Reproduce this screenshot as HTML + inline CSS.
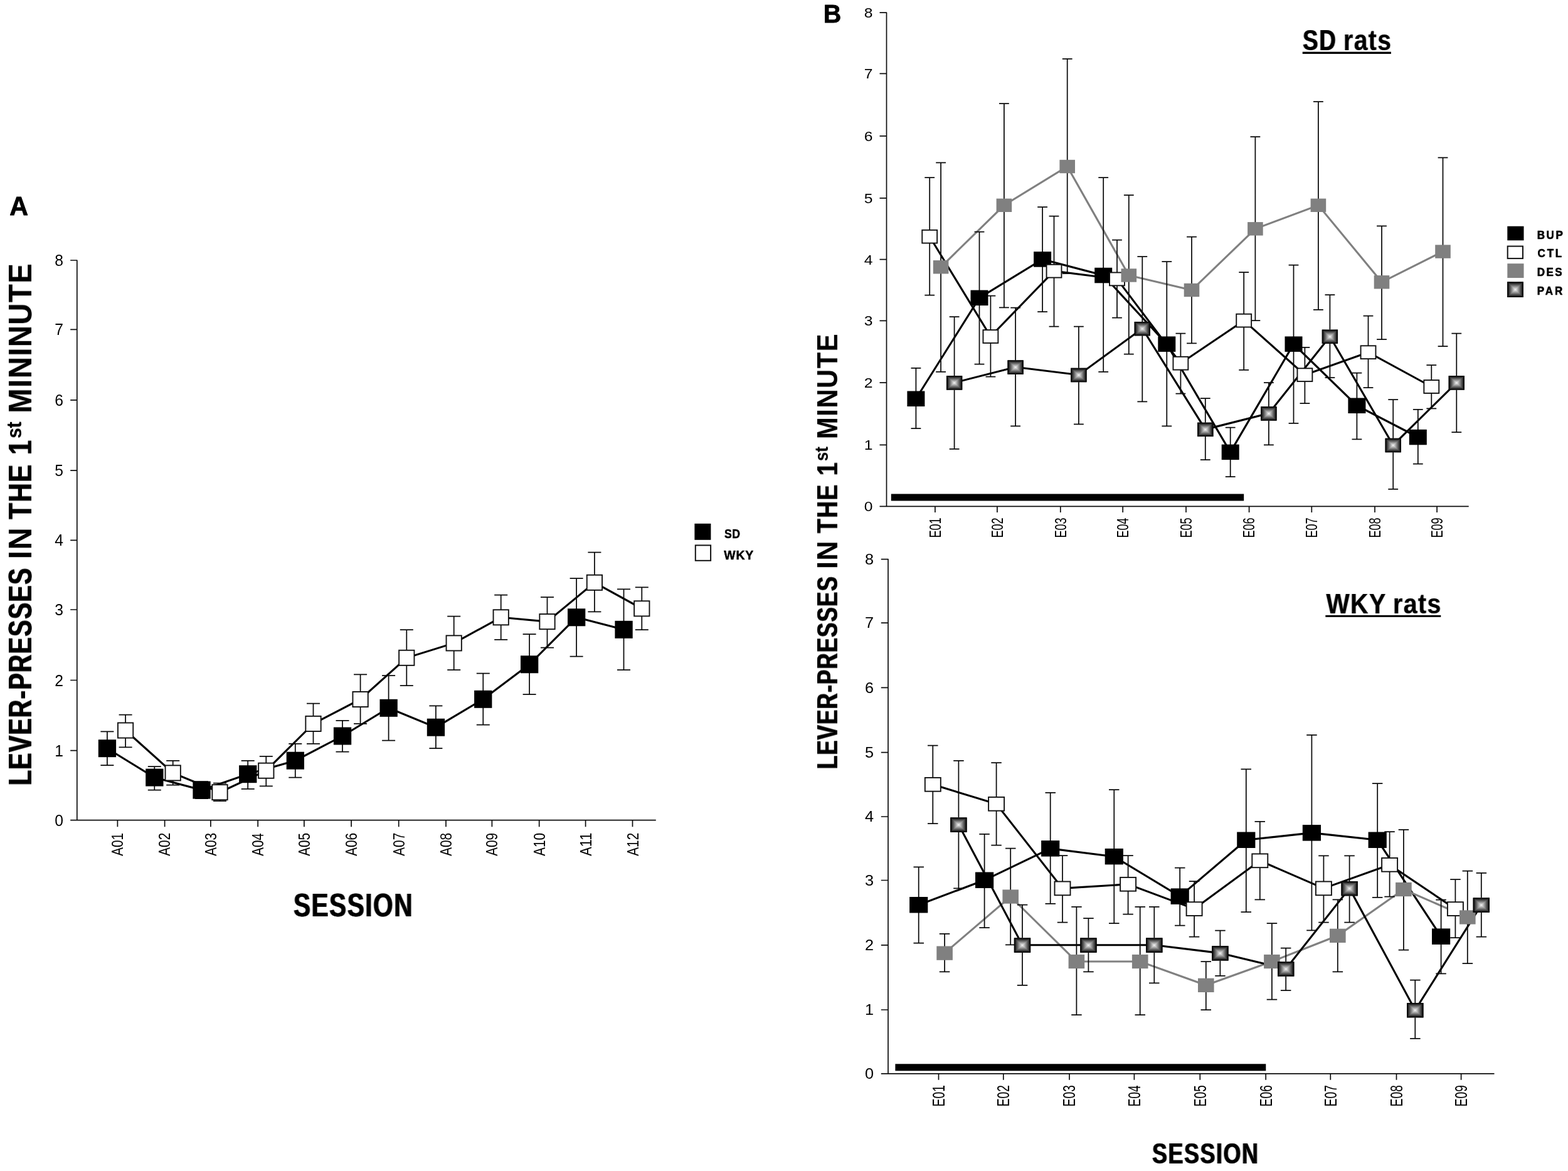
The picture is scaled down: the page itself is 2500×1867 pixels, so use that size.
<!DOCTYPE html>
<html lang="en">
<head>
<meta charset="utf-8">
<title>Lever-presses in the 1st minute</title>
<style>
html,body{margin:0;padding:0;background:#fff;}
body{width:2500px;height:1867px;overflow:hidden;}
svg{display:block;}
svg text{font-family:"Liberation Sans",sans-serif;}
</style>
</head>
<body>
<svg width="2500" height="1867" viewBox="0 0 2500 1867">
<defs>
<filter id="fx3" x="-20%" y="-20%" width="140%" height="140%"><feMorphology operator="dilate" radius="1 0" result="d"/><feComponentTransfer in="d" result="h"><feFuncA type="linear" slope="0.3"/></feComponentTransfer><feMerge><feMergeNode in="h"/><feMergeNode in="SourceGraphic"/></feMerge></filter>
<filter id="fx5" x="-20%" y="-20%" width="140%" height="140%"><feMorphology operator="dilate" radius="1 0" result="d"/><feComponentTransfer in="d" result="h"><feFuncA type="linear" slope="0.5"/></feComponentTransfer><feMerge><feMergeNode in="h"/><feMergeNode in="SourceGraphic"/></feMerge></filter>
<filter id="fx6" x="-20%" y="-20%" width="140%" height="140%"><feMorphology operator="dilate" radius="1 0" result="d"/><feComponentTransfer in="d" result="h"><feFuncA type="linear" slope="0.6"/></feComponentTransfer><feMerge><feMergeNode in="h"/><feMergeNode in="SourceGraphic"/></feMerge></filter>
<filter id="fy1" x="-20%" y="-20%" width="140%" height="140%"><feMorphology operator="dilate" radius="0 1" result="d"/><feComponentTransfer in="d" result="h"><feFuncA type="linear" slope="0.1"/></feComponentTransfer><feMerge><feMergeNode in="h"/><feMergeNode in="SourceGraphic"/></feMerge></filter>
<filter id="fy2" x="-20%" y="-20%" width="140%" height="140%"><feMorphology operator="dilate" radius="0 1" result="d"/><feComponentTransfer in="d" result="h"><feFuncA type="linear" slope="0.2"/></feComponentTransfer><feMerge><feMergeNode in="h"/><feMergeNode in="SourceGraphic"/></feMerge></filter>
<filter id="fy5" x="-20%" y="-20%" width="140%" height="140%"><feMorphology operator="dilate" radius="0 1" result="d"/><feComponentTransfer in="d" result="h"><feFuncA type="linear" slope="0.5"/></feComponentTransfer><feMerge><feMergeNode in="h"/><feMergeNode in="SourceGraphic"/></feMerge></filter>
<filter id="fy6" x="-20%" y="-20%" width="140%" height="140%"><feMorphology operator="dilate" radius="0 1" result="d"/><feComponentTransfer in="d" result="h"><feFuncA type="linear" slope="0.6"/></feComponentTransfer><feMerge><feMergeNode in="h"/><feMergeNode in="SourceGraphic"/></feMerge></filter>
<filter id="fy7" x="-20%" y="-20%" width="140%" height="140%"><feMorphology operator="dilate" radius="0 1" result="d"/><feComponentTransfer in="d" result="h"><feFuncA type="linear" slope="0.7"/></feComponentTransfer><feMerge><feMergeNode in="h"/><feMergeNode in="SourceGraphic"/></feMerge></filter>
<linearGradient id="gH" x1="0" y1="0" x2="1" y2="0"><stop offset="0" stop-color="#0a0a0a"/><stop offset="0.07" stop-color="#1e1e1e"/><stop offset="0.5" stop-color="#f4f4f4"/><stop offset="0.93" stop-color="#1e1e1e"/><stop offset="1" stop-color="#0a0a0a"/></linearGradient>
<linearGradient id="gT" x1="0" y1="0" x2="0" y2="1"><stop offset="0" stop-color="#0a0a0a"/><stop offset="0.14" stop-color="#1e1e1e"/><stop offset="1" stop-color="#f4f4f4"/></linearGradient>
<linearGradient id="gB" x1="0" y1="1" x2="0" y2="0"><stop offset="0" stop-color="#0a0a0a"/><stop offset="0.14" stop-color="#1e1e1e"/><stop offset="1" stop-color="#f4f4f4"/></linearGradient>
<g id="par">
<rect x="-13" y="-13" width="26" height="26" fill="url(#gH)"/>
<polygon points="-13,-13 13,-13 0,0" fill="url(#gT)"/>
<polygon points="-13,13 13,13 0,0" fill="url(#gB)"/>
<rect x="-12.1" y="-12.1" width="24.2" height="24.2" fill="none" stroke="#0a0a0a" stroke-width="1.8"/>
</g>
</defs>
<rect width="2500" height="1867" fill="#fff"/>
<g id="panelA">
<path d="M112.20,415.00H122.8V1307.7M112.20,1307.7H1045.8" stroke="#0c0c0c" stroke-width="1.7" fill="none" stroke-linejoin="round"/>
<path d="M112.20,1196.60H122.8M112.20,1084.50H122.8M112.20,972.00H122.8M112.20,861.30H122.8M112.20,750.20H122.8M112.20,637.80H122.8M112.20,525.30H122.8M187.40,1307.7v10.6M262.60,1307.7v10.6M335.90,1307.7v10.6M411.20,1307.7v10.6M484.90,1307.7v10.6M560.10,1307.7v10.6M635.70,1307.7v10.6M711.00,1307.7v10.6M784.40,1307.7v10.6M859.70,1307.7v10.6M933.60,1307.7v10.6M1008.50,1307.7v10.6" stroke="#0c0c0c" stroke-width="1.7" fill="none"/>
<path d="M170.9,1193.2 L246.3,1239.6 L321.5,1259.6 L395.2,1234.2 L470.8,1212.7 L546.0,1173.5 L619.6,1128.8 L694.9,1159.7 L770.3,1114.8 L844.1,1059.3 L919.1,984.3 L994.5,1003.8" stroke="#000" stroke-width="3.1" fill="none" stroke-linejoin="miter"/>
<path d="M200.1,1164.5 L275.7,1232.4 L350.5,1263.2 L424.3,1228.7 L499.5,1153.9 L574.6,1115.0 L648.3,1048.8 L723.7,1025.4 L798.7,984.3 L872.5,991.1 L947.9,928.8 L1023.3,970.3" stroke="#000" stroke-width="3.1" fill="none" stroke-linejoin="miter"/>
<path d="M170.9,1166.3V1220.0M160.4,1166.3h21M160.4,1220.0h21M246.3,1222.2V1259.6M235.8,1222.2h21M235.8,1259.6h21M321.5,1246.0V1273.0M311.0,1246.0h21M311.0,1273.0h21M395.2,1212.8V1257.8M384.7,1212.8h21M384.7,1257.8h21M470.8,1185.9V1239.6M460.3,1185.9h21M460.3,1239.6h21M546.0,1148.8V1198.6M535.5,1148.8h21M535.5,1198.6h21M619.6,1077.2V1180.6M609.1,1077.2h21M609.1,1180.6h21M694.9,1125.4V1193.2M684.4,1125.4h21M684.4,1193.2h21M770.3,1073.7V1155.5M759.8,1073.7h21M759.8,1155.5h21M844.1,1011.0V1107.2M833.6,1011.0h21M833.6,1107.2h21M919.1,922.0V1046.6M908.6,922.0h21M908.6,1046.6h21M994.5,939.4V1068.2M984.0,939.4h21M984.0,1068.2h21" stroke="#0a0a0a" stroke-width="1.75" fill="none"/>
<path d="M200.1,1139.7V1191.3M189.6,1139.7h21M189.6,1191.3h21M275.7,1212.8V1251.6M265.2,1212.8h21M265.2,1251.6h21M350.5,1248.7V1277.0M340.0,1248.7h21M340.0,1277.0h21M424.3,1205.8V1253.4M413.8,1205.8h21M413.8,1253.4h21M499.5,1121.6V1185.9M489.0,1121.6h21M489.0,1185.9h21M574.6,1075.4V1153.9M564.1,1075.4h21M564.1,1153.9h21M648.3,1004.0V1093.2M637.8,1004.0h21M637.8,1093.2h21M723.7,982.6V1068.2M713.2,982.6h21M713.2,1068.2h21M798.7,948.7V1019.9M788.2,948.7h21M788.2,1019.9h21M872.5,952.1V1032.6M862.0,952.1h21M862.0,1032.6h21M947.9,880.5V975.4M937.4,880.5h21M937.4,975.4h21M1023.3,936.4V1004.2M1012.8,936.4h21M1012.8,1004.2h21" stroke="#0a0a0a" stroke-width="1.75" fill="none"/>
<rect x="156.8" y="1179.2" width="28.3" height="28.0" fill="#000"/>
<rect x="232.2" y="1225.6" width="28.3" height="28.0" fill="#000"/>
<rect x="307.4" y="1245.6" width="28.3" height="28.0" fill="#000"/>
<rect x="381.1" y="1220.2" width="28.3" height="28.0" fill="#000"/>
<rect x="456.7" y="1198.7" width="28.3" height="28.0" fill="#000"/>
<rect x="531.9" y="1159.5" width="28.3" height="28.0" fill="#000"/>
<rect x="605.5" y="1114.8" width="28.3" height="28.0" fill="#000"/>
<rect x="680.8" y="1145.7" width="28.3" height="28.0" fill="#000"/>
<rect x="756.1" y="1100.8" width="28.3" height="28.0" fill="#000"/>
<rect x="830.0" y="1045.3" width="28.3" height="28.0" fill="#000"/>
<rect x="905.0" y="970.3" width="28.3" height="28.0" fill="#000"/>
<rect x="980.4" y="989.8" width="28.3" height="28.0" fill="#000"/>
<rect x="187.95" y="1152.45" width="24.30" height="24.10" fill="#fff" stroke="#111" stroke-width="1.9"/>
<rect x="263.55" y="1220.35" width="24.30" height="24.10" fill="#fff" stroke="#111" stroke-width="1.9"/>
<rect x="338.35" y="1251.15" width="24.30" height="24.10" fill="#fff" stroke="#111" stroke-width="1.9"/>
<rect x="412.15" y="1216.65" width="24.30" height="24.10" fill="#fff" stroke="#111" stroke-width="1.9"/>
<rect x="487.35" y="1141.85" width="24.30" height="24.10" fill="#fff" stroke="#111" stroke-width="1.9"/>
<rect x="562.45" y="1102.95" width="24.30" height="24.10" fill="#fff" stroke="#111" stroke-width="1.9"/>
<rect x="636.15" y="1036.75" width="24.30" height="24.10" fill="#fff" stroke="#111" stroke-width="1.9"/>
<rect x="711.55" y="1013.35" width="24.30" height="24.10" fill="#fff" stroke="#111" stroke-width="1.9"/>
<rect x="786.55" y="972.25" width="24.30" height="24.10" fill="#fff" stroke="#111" stroke-width="1.9"/>
<rect x="860.35" y="979.05" width="24.30" height="24.10" fill="#fff" stroke="#111" stroke-width="1.9"/>
<rect x="935.75" y="916.75" width="24.30" height="24.10" fill="#fff" stroke="#111" stroke-width="1.9"/>
<rect x="1011.15" y="958.25" width="24.30" height="24.10" fill="#fff" stroke="#111" stroke-width="1.9"/>
<text transform="translate(100.88,1316.74) scale(0.9388,1)" font-size="26.29" text-anchor="end" fill="#000">0</text>
<text transform="translate(100.88,1205.64) scale(0.9388,1)" font-size="26.29" text-anchor="end" fill="#000">1</text>
<text transform="translate(100.88,1093.54) scale(0.9388,1)" font-size="26.29" text-anchor="end" fill="#000">2</text>
<text transform="translate(100.88,981.04) scale(0.9388,1)" font-size="26.29" text-anchor="end" fill="#000">3</text>
<text transform="translate(100.88,870.34) scale(0.9388,1)" font-size="26.29" text-anchor="end" fill="#000">4</text>
<text transform="translate(100.88,759.24) scale(0.9388,1)" font-size="26.29" text-anchor="end" fill="#000">5</text>
<text transform="translate(100.88,646.84) scale(0.9388,1)" font-size="26.29" text-anchor="end" fill="#000">6</text>
<text transform="translate(100.88,534.34) scale(0.9388,1)" font-size="26.29" text-anchor="end" fill="#000">7</text>
<text transform="translate(100.88,424.04) scale(0.9388,1)" font-size="26.29" text-anchor="end" fill="#000">8</text>
<text transform="translate(196.24,1364.85) rotate(-90) scale(0.8101,1)" font-size="25.72" fill="#000">A01</text>
<text transform="translate(271.44,1364.85) rotate(-90) scale(0.8113,1)" font-size="25.72" fill="#000">A02</text>
<text transform="translate(344.74,1364.85) rotate(-90) scale(0.8078,1)" font-size="25.72" fill="#000">A03</text>
<text transform="translate(420.04,1364.85) rotate(-90) scale(0.8008,1)" font-size="25.72" fill="#000">A04</text>
<text transform="translate(493.74,1364.85) rotate(-90) scale(0.8066,1)" font-size="25.72" fill="#000">A05</text>
<text transform="translate(568.94,1364.85) rotate(-90) scale(0.8078,1)" font-size="25.72" fill="#000">A06</text>
<text transform="translate(644.54,1364.85) rotate(-90) scale(0.8113,1)" font-size="25.72" fill="#000">A07</text>
<text transform="translate(719.84,1364.85) rotate(-90) scale(0.8078,1)" font-size="25.72" fill="#000">A08</text>
<text transform="translate(793.24,1364.85) rotate(-90) scale(0.8089,1)" font-size="25.72" fill="#000">A09</text>
<text transform="translate(868.54,1364.85) rotate(-90) scale(0.8054,1)" font-size="25.72" fill="#000">A10</text>
<text transform="translate(942.70,1364.85) rotate(-90) scale(0.8217,1)" font-size="26.47" fill="#000">A11</text>
<text transform="translate(1017.60,1364.85) rotate(-90) scale(0.7998,1)" font-size="26.09" fill="#000">A12</text>
<text transform="translate(15.17,343.10) scale(0.9910,1)" font-size="41.57" font-weight="bold" fill="#000" stroke="#000" stroke-width="0.8" stroke-linejoin="round">A</text>
<g filter="url(#fy7)"><text transform="translate(50.30,1252.04) rotate(-90) scale(0.7592,1)" font-size="51.53" font-weight="bold" fill="#000" letter-spacing="1.98">LEVER-PRESSES</text></g>
<text transform="translate(50.30,891.50) rotate(-90) scale(0.9491,1)" font-size="51.53" font-weight="bold" fill="#000" letter-spacing="1.58">IN</text>
<g filter="url(#fy5)"><text transform="translate(50.30,827.72) rotate(-90) scale(0.8151,1)" font-size="51.53" font-weight="bold" fill="#000" letter-spacing="1.84">THE</text></g>
<g filter="url(#fy6)"><text transform="translate(50.30,724.75) rotate(-90) scale(0.7930,1)" font-size="51.53" font-weight="bold" fill="#000">1</text></g>
<g filter="url(#fy2)"><text transform="translate(34.06,698.74) rotate(-90) scale(0.8767,1)" font-size="33.81" font-weight="bold" fill="#000">st</text></g>
<g filter="url(#fy2)"><text transform="translate(50.30,658.68) rotate(-90) scale(0.9151,1)" font-size="51.53" font-weight="bold" fill="#000" letter-spacing="1.64">MININUTE</text></g>
<g filter="url(#fx6)"><text transform="translate(467.88,1461.30) scale(0.7922,1)" font-size="51.31" font-weight="bold" fill="#000" letter-spacing="1.89">SESSION</text></g>
<rect x="1107.4" y="834.8" width="26.0" height="26.0" fill="#000"/>
<rect x="1108.8" y="869.4" width="24.3" height="24.4" fill="#fff" stroke="#111" stroke-width="2"/>
<text transform="translate(1155.12,857.65) scale(0.8800,1)" font-size="20.06" font-weight="bold" fill="#000" letter-spacing="0.39" stroke="#000" stroke-width="0.5" stroke-linejoin="round">SD</text>
<text transform="translate(1154.30,891.75) scale(0.9700,1)" font-size="20.06" font-weight="bold" fill="#000" letter-spacing="0.83" stroke="#000" stroke-width="0.5" stroke-linejoin="round">WKY</text>
</g>
<g id="panelB-SD">
<path d="M1402.50,20.20H1413.5V807.3M1402.50,807.3H2341.7" stroke="#0c0c0c" stroke-width="1.7" fill="none" stroke-linejoin="round"/>
<path d="M1402.50,709.30H1413.5M1402.50,610.20H1413.5M1402.50,511.30H1413.5M1402.50,413.70H1413.5M1402.50,315.90H1413.5M1402.50,216.80H1413.5M1402.50,117.30H1413.5M1490.90,807.3v9.6M1589.90,807.3v9.6M1690.80,807.3v9.6M1790.20,807.3v9.6M1891.00,807.3v9.6M1991.60,807.3v9.6M2091.30,807.3v9.6M2192.00,807.3v9.6M2291.10,807.3v9.6" stroke="#0c0c0c" stroke-width="1.7" fill="none"/>
<rect x="1420.8" y="787.5" width="562.4" height="11" fill="#000"/>
<path d="M1460.4,635.8 L1561.5,474.9 L1662.1,413.5 L1759.2,439.0 L1860.3,548.6 L1961.7,720.9 L2062.5,548.6 L2163.4,646.7 L2260.8,697.0" stroke="#000" stroke-width="3.1" fill="none" stroke-linejoin="miter"/>
<path d="M1482.2,377.2 L1579.4,536.5 L1680.5,432.2 L1781.0,444.9 L1882.4,579.2 L1983.2,511.1 L2080.4,597.7 L2181.5,561.7 L2282.3,616.5" stroke="#000" stroke-width="3.1" fill="none" stroke-linejoin="miter"/>
<path d="M1500.1,425.8 L1600.9,327.3 L1701.7,265.5 L1799.8,439.0 L1900.0,462.5 L2001.4,364.8 L2101.9,327.3 L2203.0,449.8 L2300.5,401.1" stroke="#808080" stroke-width="3.1" fill="none" stroke-linejoin="miter"/>
<path d="M1521.6,610.1 L1619.1,585.3 L1719.9,597.7 L1821.3,523.8 L1921.8,684.6 L2022.9,659.1 L2120.4,536.5 L2221.2,709.7 L2322.3,610.1" stroke="#000" stroke-width="3.1" fill="none" stroke-linejoin="miter"/>
<path d="M1460.4,586.8V683.1M1452.5,586.8h15.8M1452.5,683.1h15.8M1561.5,369.6V580.7M1553.6,369.6h15.8M1553.6,580.7h15.8M1662.1,330.0V497.2M1654.2,330.0h15.8M1654.2,497.2h15.8M1759.2,283.1V592.8M1751.3,283.1h15.8M1751.3,592.8h15.8M1860.3,417.1V679.4M1852.4,417.1h15.8M1852.4,679.4h15.8M1961.7,681.5V760.0M1953.8,681.5h15.8M1953.8,760.0h15.8M2062.5,422.7V674.9M2054.6,422.7h15.8M2054.6,674.9h15.8M2163.4,594.7V700.3M2155.5,594.7h15.8M2155.5,700.3h15.8M2260.8,652.8V739.7M2252.9,652.8h15.8M2252.9,739.7h15.8" stroke="#0a0a0a" stroke-width="1.75" fill="none"/>
<path d="M1482.2,283.1V470.5M1474.3,283.1h15.8M1474.3,470.5h15.8M1579.4,471.7V600.7M1571.5,471.7h15.8M1571.5,600.7h15.8M1680.5,344.5V520.5M1672.6,344.5h15.8M1672.6,520.5h15.8M1781.0,382.7V506.6M1773.1,382.7h15.8M1773.1,506.6h15.8M1882.4,531.7V627.7M1874.5,531.7h15.8M1874.5,627.7h15.8M1983.2,434.2V589.8M1975.3,434.2h15.8M1975.3,589.8h15.8M2080.4,553.8V643.1M2072.5,553.8h15.8M2072.5,643.1h15.8M2181.5,503.5V618.0M2173.6,503.5h15.8M2173.6,618.0h15.8M2282.3,582.2V651.3M2274.4,582.2h15.8M2274.4,651.3h15.8" stroke="#0a0a0a" stroke-width="1.75" fill="none"/>
<path d="M1500.1,259.4V592.8M1492.2,259.4h15.8M1492.2,592.8h15.8M1600.9,165.0V490.4M1593.0,165.0h15.8M1593.0,490.4h15.8M1701.7,93.8V436.0M1693.8,93.8h15.8M1693.8,436.0h15.8M1799.8,311.2V564.7M1791.9,311.2h15.8M1791.9,564.7h15.8M1900.0,377.5V547.4M1892.1,377.5h15.8M1892.1,547.4h15.8M2001.4,218.0V511.1M1993.5,218.0h15.8M1993.5,511.1h15.8M2101.9,162.0V493.8M2094.0,162.0h15.8M2094.0,493.8h15.8M2203.0,360.3V541.1M2195.1,360.3h15.8M2195.1,541.1h15.8M2300.5,251.3V552.0M2292.6,251.3h15.8M2292.6,552.0h15.8" stroke="#0a0a0a" stroke-width="1.75" fill="none"/>
<path d="M1521.6,505.0V715.8M1513.7,505.0h15.8M1513.7,715.8h15.8M1619.1,490.5V679.4M1611.2,490.5h15.8M1611.2,679.4h15.8M1719.9,520.5V676.4M1712.0,520.5h15.8M1712.0,676.4h15.8M1821.3,409.1V640.4M1813.4,409.1h15.8M1813.4,640.4h15.8M1921.8,635.2V733.0M1913.9,635.2h15.8M1913.9,733.0h15.8M2022.9,610.1V709.4M2015.0,610.1h15.8M2015.0,709.4h15.8M2120.4,470.2V602.2M2112.5,470.2h15.8M2112.5,602.2h15.8M2221.2,637.0V779.9M2213.3,637.0h15.8M2213.3,779.9h15.8M2322.3,531.7V689.1M2314.4,531.7h15.8M2314.4,689.1h15.8" stroke="#0a0a0a" stroke-width="1.75" fill="none"/>
<rect x="1446.4" y="623.5" width="28.0" height="24.5" fill="#000"/>
<rect x="1547.5" y="462.6" width="28.0" height="24.5" fill="#000"/>
<rect x="1648.1" y="401.2" width="28.0" height="24.5" fill="#000"/>
<rect x="1745.2" y="426.8" width="28.0" height="24.5" fill="#000"/>
<rect x="1846.3" y="536.4" width="28.0" height="24.5" fill="#000"/>
<rect x="1947.7" y="708.6" width="28.0" height="24.5" fill="#000"/>
<rect x="2048.5" y="536.4" width="28.0" height="24.5" fill="#000"/>
<rect x="2149.4" y="634.5" width="28.0" height="24.5" fill="#000"/>
<rect x="2246.8" y="684.8" width="28.0" height="24.5" fill="#000"/>
<rect x="1470.25" y="366.80" width="23.90" height="20.80" fill="#fff" stroke="#111" stroke-width="1.9"/>
<rect x="1567.45" y="526.10" width="23.90" height="20.80" fill="#fff" stroke="#111" stroke-width="1.9"/>
<rect x="1668.55" y="421.80" width="23.90" height="20.80" fill="#fff" stroke="#111" stroke-width="1.9"/>
<rect x="1769.05" y="434.50" width="23.90" height="20.80" fill="#fff" stroke="#111" stroke-width="1.9"/>
<rect x="1870.45" y="568.80" width="23.90" height="20.80" fill="#fff" stroke="#111" stroke-width="1.9"/>
<rect x="1971.25" y="500.70" width="23.90" height="20.80" fill="#fff" stroke="#111" stroke-width="1.9"/>
<rect x="2068.45" y="587.30" width="23.90" height="20.80" fill="#fff" stroke="#111" stroke-width="1.9"/>
<rect x="2169.55" y="551.30" width="23.90" height="20.80" fill="#fff" stroke="#111" stroke-width="1.9"/>
<rect x="2270.35" y="606.10" width="23.90" height="20.80" fill="#fff" stroke="#111" stroke-width="1.9"/>
<rect x="1487.8" y="415.1" width="24.6" height="21.4" fill="#808080"/>
<rect x="1588.6" y="316.6" width="24.6" height="21.4" fill="#808080"/>
<rect x="1689.4" y="254.8" width="24.6" height="21.4" fill="#808080"/>
<rect x="1787.5" y="428.3" width="24.6" height="21.4" fill="#808080"/>
<rect x="1887.7" y="451.8" width="24.6" height="21.4" fill="#808080"/>
<rect x="1989.1" y="354.1" width="24.6" height="21.4" fill="#808080"/>
<rect x="2089.6" y="316.6" width="24.6" height="21.4" fill="#808080"/>
<rect x="2190.7" y="439.1" width="24.6" height="21.4" fill="#808080"/>
<rect x="2288.2" y="390.4" width="24.6" height="21.4" fill="#808080"/>
<use href="#par" transform="translate(1521.6,610.4) scale(0.9731,0.8577)"/>
<use href="#par" transform="translate(1619.1,585.6) scale(0.9731,0.8577)"/>
<use href="#par" transform="translate(1719.9,598.0) scale(0.9731,0.8577)"/>
<use href="#par" transform="translate(1821.3,524.1) scale(0.9731,0.8577)"/>
<use href="#par" transform="translate(1921.8,684.9) scale(0.9731,0.8577)"/>
<use href="#par" transform="translate(2022.9,659.4) scale(0.9731,0.8577)"/>
<use href="#par" transform="translate(2120.4,536.8) scale(0.9731,0.8577)"/>
<use href="#par" transform="translate(2221.2,710.0) scale(0.9731,0.8577)"/>
<use href="#par" transform="translate(2322.3,610.4) scale(0.9731,0.8577)"/>
<text transform="translate(1391.48,815.17) scale(1.0779,1)" font-size="22.90" text-anchor="end" fill="#000">0</text>
<text transform="translate(1391.48,717.17) scale(1.0779,1)" font-size="22.90" text-anchor="end" fill="#000">1</text>
<text transform="translate(1391.48,618.07) scale(1.0779,1)" font-size="22.90" text-anchor="end" fill="#000">2</text>
<text transform="translate(1391.48,519.17) scale(1.0779,1)" font-size="22.90" text-anchor="end" fill="#000">3</text>
<text transform="translate(1391.48,421.57) scale(1.0779,1)" font-size="22.90" text-anchor="end" fill="#000">4</text>
<text transform="translate(1391.48,323.77) scale(1.0779,1)" font-size="22.90" text-anchor="end" fill="#000">5</text>
<text transform="translate(1391.48,224.67) scale(1.0779,1)" font-size="22.90" text-anchor="end" fill="#000">6</text>
<text transform="translate(1391.48,125.17) scale(1.0779,1)" font-size="22.90" text-anchor="end" fill="#000">7</text>
<text transform="translate(1391.48,28.07) scale(1.0779,1)" font-size="22.90" text-anchor="end" fill="#000">8</text>
<text transform="translate(1499.79,857.60) rotate(-90) scale(0.7017,1)" font-size="25.87" fill="#000">E01</text>
<text transform="translate(1598.79,857.60) rotate(-90) scale(0.7027,1)" font-size="25.87" fill="#000">E02</text>
<text transform="translate(1699.69,857.59) rotate(-90) scale(0.6995,1)" font-size="25.87" fill="#000">E03</text>
<text transform="translate(1799.09,857.58) rotate(-90) scale(0.6932,1)" font-size="25.87" fill="#000">E04</text>
<text transform="translate(1899.89,857.59) rotate(-90) scale(0.6985,1)" font-size="25.87" fill="#000">E05</text>
<text transform="translate(2000.49,857.59) rotate(-90) scale(0.6995,1)" font-size="25.87" fill="#000">E06</text>
<text transform="translate(2100.19,857.60) rotate(-90) scale(0.7027,1)" font-size="25.87" fill="#000">E07</text>
<text transform="translate(2200.89,857.59) rotate(-90) scale(0.6995,1)" font-size="25.87" fill="#000">E08</text>
<text transform="translate(2299.99,857.60) rotate(-90) scale(0.7006,1)" font-size="25.87" fill="#000">E09</text>
<g filter="url(#fx5)"><text transform="translate(2077.09,80.10) scale(0.8134,1)" font-size="45.35" font-weight="bold" fill="#000" letter-spacing="1.84">SD</text></g>
<g filter="url(#fx3)"><text transform="translate(2141.97,80.10) scale(0.8591,1)" font-size="45.35" font-weight="bold" fill="#000" letter-spacing="1.75">rats</text></g>
<rect x="2076.7" y="82.6" width="141.2" height="3.3" fill="#000"/>
<rect x="2403.3" y="360.7" width="26.2" height="22.6" fill="#000"/>
<rect x="2403.7" y="392.6" width="24.3" height="19.5" fill="#fff" stroke="#111" stroke-width="2"/>
<rect x="2403.3" y="420.2" width="26.2" height="22.9" fill="#808080"/>
<use href="#par" transform="translate(2416.0,461.7) scale(0.9885,0.9423)"/>
<text transform="translate(2450.85,380.50) scale(0.9600,1)" font-size="17.73" font-weight="bold" fill="#000" letter-spacing="2.60" stroke="#000" stroke-width="0.6" stroke-linejoin="round">BUP</text>
<text transform="translate(2451.62,410.40) scale(0.9600,1)" font-size="17.73" font-weight="bold" fill="#000" letter-spacing="2.88" stroke="#000" stroke-width="0.6" stroke-linejoin="round">CTL</text>
<text transform="translate(2450.85,440.30) scale(0.9600,1)" font-size="17.73" font-weight="bold" fill="#000" letter-spacing="2.55" stroke="#000" stroke-width="0.6" stroke-linejoin="round">DES</text>
<text transform="translate(2450.85,470.10) scale(0.9600,1)" font-size="17.73" font-weight="bold" fill="#000" letter-spacing="3.05" stroke="#000" stroke-width="0.6" stroke-linejoin="round">PAR</text>
</g>
<g id="panelB-WKY">
<path d="M1404.80,891.60H1416.0V1711.8M1404.80,1711.8H2382.5" stroke="#0c0c0c" stroke-width="1.7" fill="none" stroke-linejoin="round"/>
<path d="M1404.80,1610.00H1416.0M1404.80,1506.80H1416.0M1404.80,1403.50H1416.0M1404.80,1302.00H1416.0M1404.80,1199.60H1416.0M1404.80,1096.40H1416.0M1404.80,993.20H1416.0M1496.50,1711.8v10M1599.80,1711.8v10M1705.00,1711.8v10M1808.40,1711.8v10M1913.30,1711.8v10M2018.20,1711.8v10M2121.30,1711.8v10M2226.50,1711.8v10M2329.60,1711.8v10" stroke="#0c0c0c" stroke-width="1.7" fill="none"/>
<rect x="1427.4" y="1696.3" width="590.9" height="11" fill="#000"/>
<path d="M1464.7,1442.8 L1569.6,1403.3 L1674.7,1352.9 L1776.3,1365.7 L1881.2,1429.2 L1986.8,1339.3 L2091.4,1327.9 L2196.2,1339.3 L2297.6,1493.2" stroke="#000" stroke-width="3.1" fill="none" stroke-linejoin="miter"/>
<path d="M1487.3,1250.8 L1588.6,1281.8 L1694.0,1416.4 L1798.6,1409.8 L1904.1,1449.1 L2008.8,1372.3 L2110.4,1416.4 L2215.6,1378.8 L2320.4,1449.1" stroke="#000" stroke-width="3.1" fill="none" stroke-linejoin="miter"/>
<path d="M1506.1,1519.6 L1611.2,1429.5 L1716.4,1533.0 L1817.7,1533.0 L1922.8,1570.8 L2027.9,1533.0 L2132.8,1491.8 L2237.9,1418.0 L2339.8,1462.4" stroke="#808080" stroke-width="3.1" fill="none" stroke-linejoin="miter"/>
<path d="M1528.4,1314.8 L1630.0,1506.8 L1735.4,1506.8 L1840.3,1506.8 L1945.4,1519.6 L2050.2,1544.7 L2151.6,1416.4 L2256.3,1610.4 L2361.8,1442.8" stroke="#000" stroke-width="3.1" fill="none" stroke-linejoin="miter"/>
<path d="M1464.7,1382.3V1503.5M1456.5,1382.3h16.5M1456.5,1503.5h16.5M1569.6,1329.8V1479.0M1561.3,1329.8h16.5M1561.3,1479.0h16.5M1674.7,1263.9V1440.9M1666.5,1263.9h16.5M1666.5,1440.9h16.5M1776.3,1259.0V1472.2M1768.0,1259.0h16.5M1768.0,1472.2h16.5M1881.2,1383.7V1475.5M1873.0,1383.7h16.5M1873.0,1475.5h16.5M1986.8,1226.3V1454.0M1978.5,1226.3h16.5M1978.5,1454.0h16.5M2091.4,1171.8V1483.4M2083.2,1171.8h16.5M2083.2,1483.4h16.5M2196.2,1249.1V1430.8M2187.9,1249.1h16.5M2187.9,1430.8h16.5M2297.6,1434.6V1552.3M2289.3,1434.6h16.5M2289.3,1552.3h16.5" stroke="#0a0a0a" stroke-width="1.75" fill="none"/>
<path d="M1487.3,1188.7V1313.2M1479.0,1188.7h16.5M1479.0,1313.2h16.5M1588.6,1216.2V1347.5M1580.3,1216.2h16.5M1580.3,1347.5h16.5M1694.0,1364.1V1470.6M1685.8,1364.1h16.5M1685.8,1470.6h16.5M1798.6,1364.1V1457.5M1790.3,1364.1h16.5M1790.3,1457.5h16.5M1904.1,1405.2V1493.5M1895.8,1405.2h16.5M1895.8,1493.5h16.5M2008.8,1309.9V1434.4M2000.5,1309.9h16.5M2000.5,1434.4h16.5M2110.4,1364.4V1470.6M2102.2,1364.4h16.5M2102.2,1470.6h16.5M2215.6,1326.2V1429.7M2207.3,1326.2h16.5M2207.3,1429.7h16.5M2320.4,1402.0V1495.1M2312.2,1402.0h16.5M2312.2,1495.1h16.5" stroke="#0a0a0a" stroke-width="1.75" fill="none"/>
<path d="M1506.1,1488.8V1549.3M1497.8,1488.8h16.5M1497.8,1549.3h16.5M1611.2,1352.6V1506.3M1603.0,1352.6h16.5M1603.0,1506.3h16.5M1716.4,1445.8V1618.2M1708.2,1445.8h16.5M1708.2,1618.2h16.5M1817.7,1445.8V1618.2M1809.5,1445.8h16.5M1809.5,1618.2h16.5M1922.8,1533.0V1610.1M1914.5,1533.0h16.5M1914.5,1610.1h16.5M2027.9,1472.2V1593.7M2019.7,1472.2h16.5M2019.7,1593.7h16.5M2132.8,1434.4V1549.3M2124.6,1434.4h16.5M2124.6,1549.3h16.5M2237.9,1322.9V1514.7M2229.7,1322.9h16.5M2229.7,1514.7h16.5M2339.8,1388.6V1536.2M2331.6,1388.6h16.5M2331.6,1536.2h16.5" stroke="#0a0a0a" stroke-width="1.75" fill="none"/>
<path d="M1528.4,1212.9V1416.4M1520.2,1212.9h16.5M1520.2,1416.4h16.5M1630.0,1442.5V1570.8M1621.8,1442.5h16.5M1621.8,1570.8h16.5M1735.4,1464.0V1549.3M1727.2,1464.0h16.5M1727.2,1549.3h16.5M1840.3,1445.8V1567.3M1832.0,1445.8h16.5M1832.0,1567.3h16.5M1945.4,1483.7V1555.8M1937.2,1483.7h16.5M1937.2,1555.8h16.5M2050.2,1511.7V1579.0M2041.9,1511.7h16.5M2041.9,1579.0h16.5M2151.6,1364.4V1470.6M2143.3,1364.4h16.5M2143.3,1470.6h16.5M2256.3,1562.5V1655.8M2248.1,1562.5h16.5M2248.1,1655.8h16.5M2361.8,1391.9V1493.7M2353.6,1391.9h16.5M2353.6,1493.7h16.5" stroke="#0a0a0a" stroke-width="1.75" fill="none"/>
<rect x="1450.1" y="1430.0" width="29.2" height="25.5" fill="#000"/>
<rect x="1555.0" y="1390.5" width="29.2" height="25.5" fill="#000"/>
<rect x="1660.1" y="1340.1" width="29.2" height="25.5" fill="#000"/>
<rect x="1761.7" y="1352.9" width="29.2" height="25.5" fill="#000"/>
<rect x="1866.6" y="1416.4" width="29.2" height="25.5" fill="#000"/>
<rect x="1972.2" y="1326.5" width="29.2" height="25.5" fill="#000"/>
<rect x="2076.8" y="1315.1" width="29.2" height="25.5" fill="#000"/>
<rect x="2181.6" y="1326.5" width="29.2" height="25.5" fill="#000"/>
<rect x="2283.0" y="1480.4" width="29.2" height="25.5" fill="#000"/>
<rect x="1474.81" y="1239.92" width="24.98" height="21.75" fill="#fff" stroke="#111" stroke-width="1.9"/>
<rect x="1576.11" y="1270.92" width="24.98" height="21.75" fill="#fff" stroke="#111" stroke-width="1.9"/>
<rect x="1681.51" y="1405.52" width="24.98" height="21.75" fill="#fff" stroke="#111" stroke-width="1.9"/>
<rect x="1786.11" y="1398.92" width="24.98" height="21.75" fill="#fff" stroke="#111" stroke-width="1.9"/>
<rect x="1891.61" y="1438.22" width="24.98" height="21.75" fill="#fff" stroke="#111" stroke-width="1.9"/>
<rect x="1996.31" y="1361.42" width="24.98" height="21.75" fill="#fff" stroke="#111" stroke-width="1.9"/>
<rect x="2097.91" y="1405.52" width="24.98" height="21.75" fill="#fff" stroke="#111" stroke-width="1.9"/>
<rect x="2203.11" y="1367.92" width="24.98" height="21.75" fill="#fff" stroke="#111" stroke-width="1.9"/>
<rect x="2307.91" y="1438.22" width="24.98" height="21.75" fill="#fff" stroke="#111" stroke-width="1.9"/>
<rect x="1493.3" y="1508.5" width="25.6" height="22.3" fill="#808080"/>
<rect x="1598.4" y="1418.4" width="25.6" height="22.3" fill="#808080"/>
<rect x="1703.6" y="1521.9" width="25.6" height="22.3" fill="#808080"/>
<rect x="1804.9" y="1521.9" width="25.6" height="22.3" fill="#808080"/>
<rect x="1910.0" y="1559.7" width="25.6" height="22.3" fill="#808080"/>
<rect x="2015.1" y="1521.9" width="25.6" height="22.3" fill="#808080"/>
<rect x="2120.0" y="1480.7" width="25.6" height="22.3" fill="#808080"/>
<rect x="2225.1" y="1406.9" width="25.6" height="22.3" fill="#808080"/>
<rect x="2327.0" y="1451.3" width="25.6" height="22.3" fill="#808080"/>
<use href="#par" transform="translate(1528.4,1315.1) scale(1.0139,0.8937)"/>
<use href="#par" transform="translate(1630.0,1507.1) scale(1.0139,0.8937)"/>
<use href="#par" transform="translate(1735.4,1507.1) scale(1.0139,0.8937)"/>
<use href="#par" transform="translate(1840.3,1507.1) scale(1.0139,0.8937)"/>
<use href="#par" transform="translate(1945.4,1519.9) scale(1.0139,0.8937)"/>
<use href="#par" transform="translate(2050.2,1545.0) scale(1.0139,0.8937)"/>
<use href="#par" transform="translate(2151.6,1416.7) scale(1.0139,0.8937)"/>
<use href="#par" transform="translate(2256.3,1610.7) scale(1.0139,0.8937)"/>
<use href="#par" transform="translate(2361.8,1443.1) scale(1.0139,0.8937)"/>
<text transform="translate(1393.01,1719.96) scale(1.0663,1)" font-size="23.75" text-anchor="end" fill="#000">0</text>
<text transform="translate(1393.01,1618.16) scale(1.0663,1)" font-size="23.75" text-anchor="end" fill="#000">1</text>
<text transform="translate(1393.01,1514.96) scale(1.0663,1)" font-size="23.75" text-anchor="end" fill="#000">2</text>
<text transform="translate(1393.01,1411.66) scale(1.0663,1)" font-size="23.75" text-anchor="end" fill="#000">3</text>
<text transform="translate(1393.01,1310.16) scale(1.0663,1)" font-size="23.75" text-anchor="end" fill="#000">4</text>
<text transform="translate(1393.01,1207.76) scale(1.0663,1)" font-size="23.75" text-anchor="end" fill="#000">5</text>
<text transform="translate(1393.01,1104.56) scale(1.0663,1)" font-size="23.75" text-anchor="end" fill="#000">6</text>
<text transform="translate(1393.01,1001.36) scale(1.0663,1)" font-size="23.75" text-anchor="end" fill="#000">7</text>
<text transform="translate(1393.01,899.76) scale(1.0663,1)" font-size="23.75" text-anchor="end" fill="#000">8</text>
<text transform="translate(1505.88,1764.29) rotate(-90) scale(0.7053,1)" font-size="27.28" fill="#000">E01</text>
<text transform="translate(1609.18,1764.29) rotate(-90) scale(0.7064,1)" font-size="27.28" fill="#000">E02</text>
<text transform="translate(1714.38,1764.28) rotate(-90) scale(0.7032,1)" font-size="27.28" fill="#000">E03</text>
<text transform="translate(1817.78,1764.27) rotate(-90) scale(0.6969,1)" font-size="27.28" fill="#000">E04</text>
<text transform="translate(1922.68,1764.28) rotate(-90) scale(0.7022,1)" font-size="27.28" fill="#000">E05</text>
<text transform="translate(2027.58,1764.28) rotate(-90) scale(0.7032,1)" font-size="27.28" fill="#000">E06</text>
<text transform="translate(2130.68,1764.29) rotate(-90) scale(0.7064,1)" font-size="27.28" fill="#000">E07</text>
<text transform="translate(2235.88,1764.28) rotate(-90) scale(0.7032,1)" font-size="27.28" fill="#000">E08</text>
<text transform="translate(2338.98,1764.29) rotate(-90) scale(0.7043,1)" font-size="27.28" fill="#000">E09</text>
<g filter="url(#fx3)"><text transform="translate(2114.40,978.00) scale(0.8753,1)" font-size="45.06" font-weight="bold" fill="#000" letter-spacing="1.71">WKY</text></g>
<g filter="url(#fx3)"><text transform="translate(2220.95,978.00) scale(0.8698,1)" font-size="45.06" font-weight="bold" fill="#000" letter-spacing="1.72">rats</text></g>
<rect x="2113.3" y="980.8" width="184" height="3" fill="#000"/>
<g filter="url(#fx6)"><text transform="translate(1837.12,1854.50) scale(0.7882,1)" font-size="45.64" font-weight="bold" fill="#000" letter-spacing="1.90">SESSION</text></g>
</g>
<text transform="translate(1312.73,35.60) scale(0.9605,1)" font-size="41.13" font-weight="bold" fill="#000" stroke="#000" stroke-width="0.8" stroke-linejoin="round">B</text>
<g filter="url(#fy7)"><text transform="translate(1334.80,1226.12) rotate(-90) scale(0.7545,1)" font-size="45.64" font-weight="bold" fill="#000" letter-spacing="1.99">LEVER-PRESSES</text></g>
<g filter="url(#fy1)"><text transform="translate(1334.80,906.90) rotate(-90) scale(0.9398,1)" font-size="45.64" font-weight="bold" fill="#000" letter-spacing="1.60">IN</text></g>
<g filter="url(#fy5)"><text transform="translate(1334.80,849.97) rotate(-90) scale(0.8124,1)" font-size="45.64" font-weight="bold" fill="#000" letter-spacing="1.85">THE</text></g>
<g filter="url(#fy5)"><text transform="translate(1334.80,757.91) rotate(-90) scale(0.8105,1)" font-size="45.64" font-weight="bold" fill="#000">1</text></g>
<g filter="url(#fy2)"><text transform="translate(1320.20,734.99) rotate(-90) scale(0.8611,1)" font-size="29.58" font-weight="bold" fill="#000">st</text></g>
<g filter="url(#fy1)"><text transform="translate(1334.80,699.92) rotate(-90) scale(0.9141,1)" font-size="45.64" font-weight="bold" fill="#000" letter-spacing="1.64">MINUTE</text></g>
</svg>
</body>
</html>
